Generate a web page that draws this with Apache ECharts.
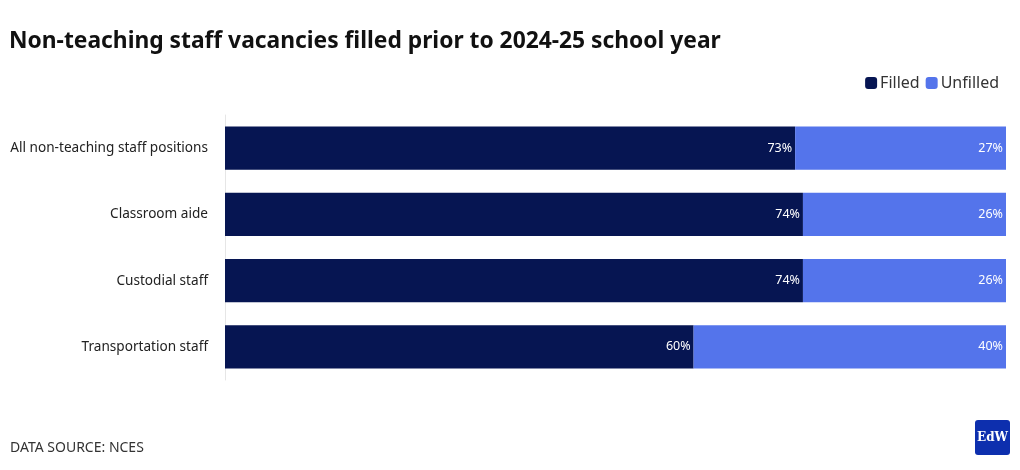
<!DOCTYPE html>
<html><head><meta charset="utf-8">
<script src="https://cdn.jsdelivr.net/npm/echarts@6/dist/echarts.min.js"></script>
<style>html,body{margin:0;padding:0;background:#fff}#c{width:1020px;height:470px}</style>
</head><body><div id="c"></div>
<script>
const categories = ["All non-teaching staff positions","Classroom aide","Custodial staff","Transportation staff"];
const filled = [73,74,74,60];
const unfilled = [27,26,26,40];
const seriesNames = ["Filled","Unfilled"];
const FONT = "'Noto Sans', sans-serif";
const chart = echarts.init(document.getElementById('c'));
chart.setOption({
  animation:false,
  backgroundColor:'#fff',
  title:{text:'Non-teaching staff vacancies filled prior to 2024-25 school year',left:4,top:25,
    textStyle:{fontFamily:FONT,fontWeight:'bold',fontSize:22.8,color:'#111'}},
  legend:{right:16,top:70,itemWidth:12,itemHeight:12,itemGap:6,icon:'roundRect',
    textStyle:{fontFamily:FONT,fontSize:16,color:'#333',padding:[0,0,0,-2]},data:seriesNames},
  grid:{left:225,right:14,top:115,bottom:90,containLabel:false},
  xAxis:{type:'value',min:0,max:100,show:false},
  yAxis:{type:'category',inverse:true,data:categories,
    axisLine:{show:true,lineStyle:{color:'#e6e6e6'}},axisTick:{show:false},
    axisLabel:{fontFamily:FONT,fontSize:13.6,color:'#222',margin:17}},
  series:[
    {name:seriesNames[0],type:'bar',stack:'s',data:filled,barWidth:'65%',
     itemStyle:{color:'#061552'},
     label:{show:true,position:'insideRight',formatter:'{c}%',color:'#fff',fontFamily:FONT,fontSize:12.5,distance:3}},
    {name:seriesNames[1],type:'bar',stack:'s',data:unfilled,barWidth:'65%',
     itemStyle:{color:'#5474eb'},
     label:{show:true,position:'insideRight',formatter:'{c}%',color:'#fff',fontFamily:FONT,fontSize:12.5,distance:3}}
  ],
  graphic:[
    {type:'text',left:10,top:441,style:{text:'DATA SOURCE: NCES',font:"14px 'Noto Sans', sans-serif",fill:'#333'}},
    {type:'rect',left:975,top:420,shape:{width:35,height:35,r:3},style:{fill:'#0d2fae'}},
    {type:'text',x:992.5,y:438,style:{text:'EdW',font:"bold 12px 'DejaVu Serif', serif",fill:'#fff',align:'center',verticalAlign:'middle'}}
  ]
});
</script></body></html>
